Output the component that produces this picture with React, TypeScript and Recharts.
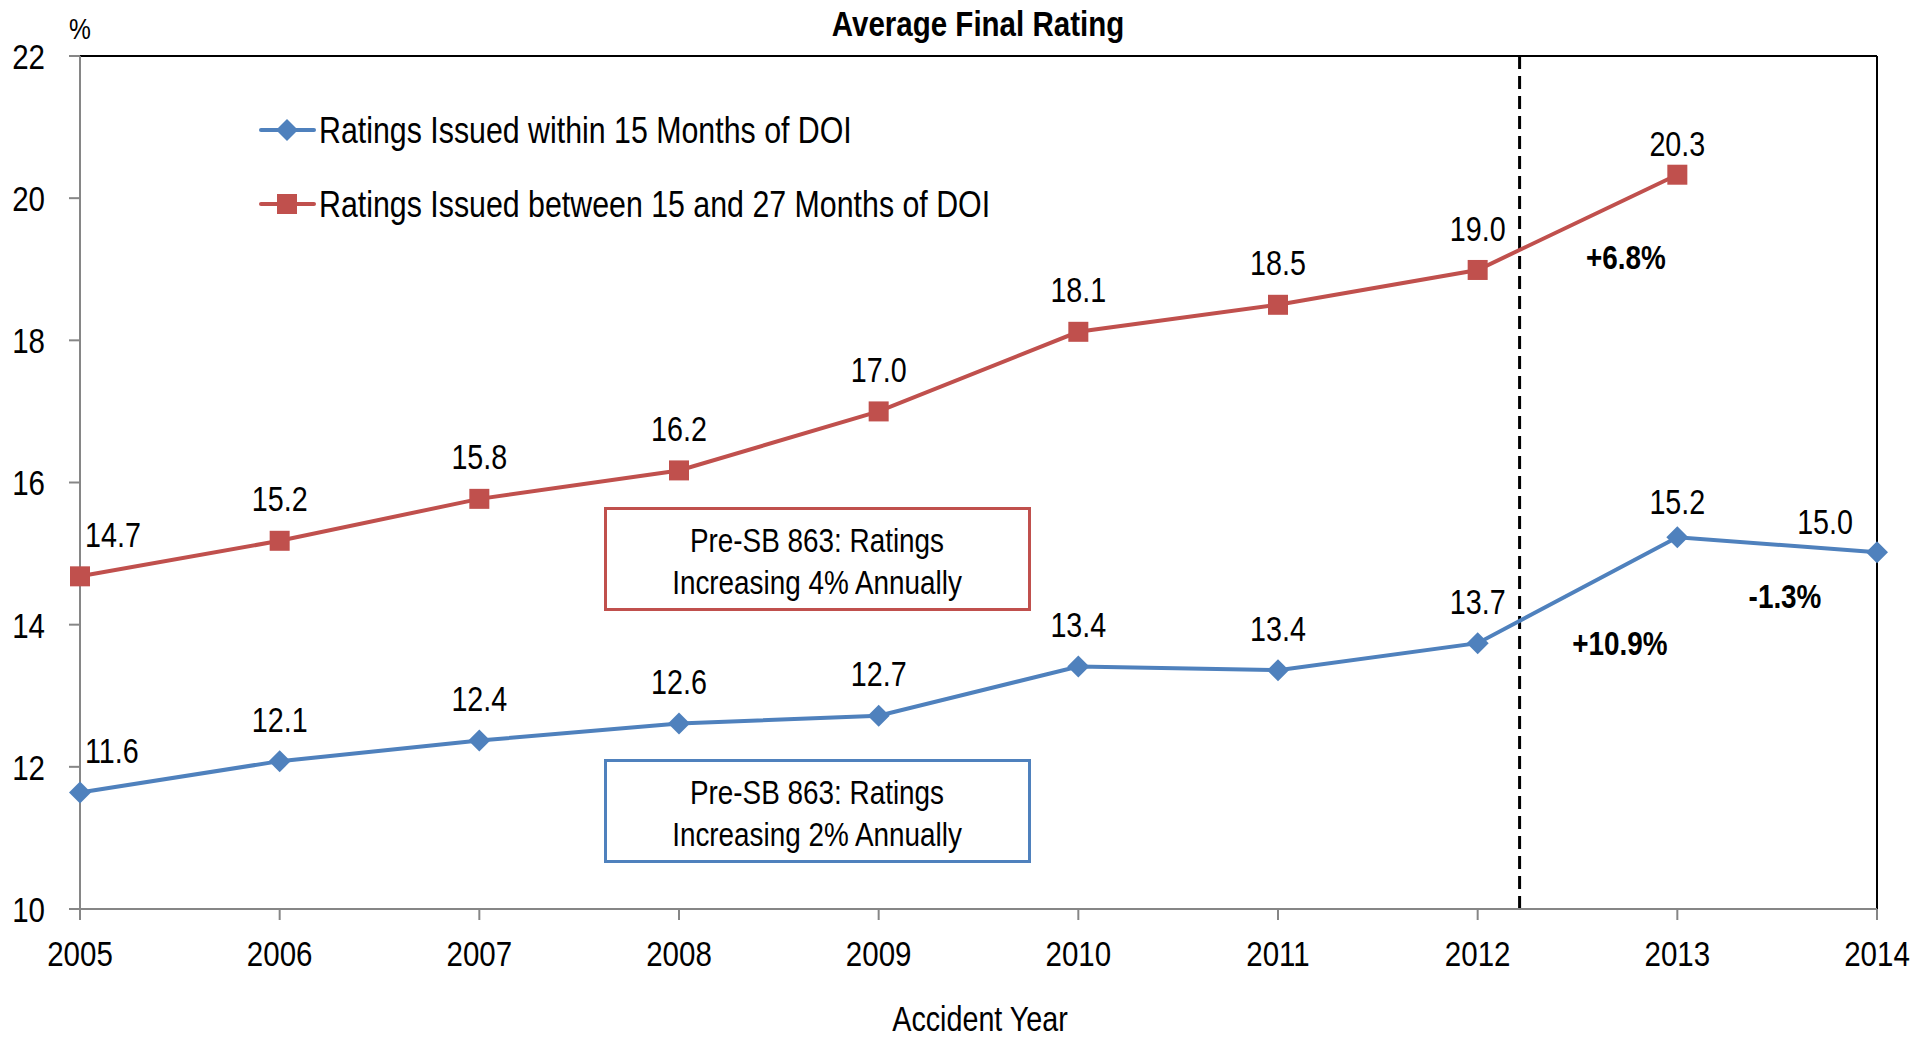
import React from 'react';
import { LineChart, Line, XAxis, YAxis, ReferenceLine, LabelList } from 'recharts';

const years = [2005, 2006, 2007, 2008, 2009, 2010, 2011, 2012, 2013, 2014];
const within15 = [11.64, 12.08, 12.37, 12.61, 12.72, 13.41, 13.36, 13.74, 15.23, 15.02];
const between15and27 = [14.68, 15.18, 15.77, 16.17, 17.0, 18.12, 18.5, 18.99, 20.33, null];
const yTicks = [10, 12, 14, 16, 18, 20, 22];
const seriesNames = ['Ratings Issued within 15 Months of DOI', 'Ratings Issued between 15 and 27 Months of DOI'];
const changeNotes = [
  { text: '+6.8%', x: 1626, y: 257 },
  { text: '+10.9%', x: 1620, y: 643 },
  { text: '-1.3%', x: 1785, y: 596 },
];
const boxNotes = [
  { lines: ['Pre-SB 863: Ratings', 'Increasing 4% Annually'], color: '#C0504D', x: 604, y: 507 },
  { lines: ['Pre-SB 863: Ratings', 'Increasing 2% Annually'], color: '#4F81BD', x: 604, y: 759 },
];

const BLUE = '#4F81BD';
const RED = '#C0504D';
const FONT = "'Liberation Sans', Arial, sans-serif";
const SX = 0.82; // horizontal condensing, Arial Narrow style

const data = years.map((y, i) => ({ year: y, a: within15[i], b: between15and27[i] }));

const NText = (p: any) => {
  const { x, y, anchor = 'middle', size = 36, weight = 'normal', dy = '0.36em', children } = p;
  return (
    <text
      transform={`translate(${x},${y}) scale(${SX},1)`}
      x={0}
      y={0}
      dy={dy}
      textAnchor={anchor}
      fontSize={size}
      fontWeight={weight}
      fontFamily={FONT}
      fill="#000"
    >
      {children}
    </text>
  );
};

const Diamond = (props: any) => {
  const { cx, cy } = props;
  if (cx == null || cy == null) return null;
  return <path d={`M${cx},${cy - 11} L${cx + 11},${cy} L${cx},${cy + 11} L${cx - 11},${cy} Z`} fill={BLUE} />;
};
const Square = (props: any) => {
  const { cx, cy } = props;
  if (cx == null || cy == null) return null;
  return <rect x={cx - 10} y={cy - 10} width={20} height={20} fill={RED} />;
};

const makeLabel = (series: 'a' | 'b') => (props: any) => {
  const { x, y, value, index } = props;
  if (value == null) return null;
  let anchor = 'middle';
  let tx = x;
  let ty = y - 42;
  if (index === 0) { anchor = 'start'; tx = x + 5; }
  if (index === 8) { ty = series === 'b' ? y - 31 : y - 36; }
  if (index === years.length - 1) { anchor = 'end'; tx = x - 24; ty = y - 31; }
  return <NText x={tx} y={ty} anchor={anchor} size={35}>{Number(value).toFixed(1)}</NText>;
};
const LabelA = makeLabel('a');
const LabelB = makeLabel('b');

const XTick = (props: any) => {
  const { x, y, payload } = props;
  return <NText x={x} y={y} anchor="middle" size={36} dy="0.71em">{payload.value}</NText>;
};
const YTick = (props: any) => {
  const { x, y, payload } = props;
  return <NText x={x} y={y} anchor="end" size={36} dy="0.36em">{payload.value}</NText>;
};

export default function App() {
  return (
    <div style={{ position: 'absolute', left: 0, top: 0, width: 1932, height: 1037, background: '#fff' }}>
      <LineChart width={1932} height={1037} data={data} margin={{ top: 56, right: 55, left: 0, bottom: 0 }}>
        <XAxis
          dataKey="year"
          type="number"
          domain={[2005, 2014]}
          ticks={years}
          height={128}
          stroke="#868686"
          strokeWidth={2}
          tickSize={11}
          tickMargin={20}
          tick={<XTick />}
          interval={0}
        />
        <YAxis
          domain={[10, 22]}
          ticks={yTicks}
          width={80}
          stroke="#868686"
          strokeWidth={2}
          tickSize={11}
          tickMargin={24}
          tick={<YTick />}
          interval={0}
          allowDataOverflow
        />
        <ReferenceLine y={22} stroke="#000" strokeWidth={2} />
        <ReferenceLine x={2014} stroke="#000" strokeWidth={2} />
        <ReferenceLine
          segment={[{ x: 2012.21, y: 10 }, { x: 2012.21, y: 22.06 }]}
          ifOverflow="visible"
          stroke="#000"
          strokeWidth={3}
          strokeDasharray="13 7"
        />
        <Line
          name={seriesNames[0]}
          dataKey="a"
          stroke={BLUE}
          strokeWidth={4}
          dot={<Diamond />}
          activeDot={false}
          isAnimationActive={false}
        >
          <LabelList dataKey="a" content={<LabelA />} />
        </Line>
        <Line
          name={seriesNames[1]}
          dataKey="b"
          stroke={RED}
          strokeWidth={4}
          dot={<Square />}
          activeDot={false}
          isAnimationActive={false}
        >
          <LabelList dataKey="b" content={<LabelB />} />
        </Line>
      </LineChart>
      <svg
        width={1932}
        height={1037}
        style={{ position: 'absolute', left: 0, top: 0, pointerEvents: 'none' }}
      >
        <NText x={978} y={23} size={36} weight="bold">Average Final Rating</NText>
        <NText x={69} y={28} size={30} anchor="start">%</NText>
        <NText x={980} y={1018} size={35}>Accident Year</NText>
        {seriesNames.map((n, i) => {
          const cy = 130 + i * 74;
          return (
            <g key={n}>
              <line x1={261} y1={cy} x2={314} y2={cy} stroke={i === 0 ? BLUE : RED} strokeWidth={4} strokeLinecap="round" />
              {i === 0 ? (
                <path d={`M287,${cy - 11} L298,${cy} L287,${cy + 11} L276,${cy} Z`} fill={BLUE} />
              ) : (
                <rect x={277} y={cy - 10} width={20} height={20} fill={RED} />
              )}
              <NText x={319} y={cy} anchor="start" size={37}>{n}</NText>
            </g>
          );
        })}
        {changeNotes.map((c) => (
          <NText key={c.text} x={c.x} y={c.y} size={34} weight="bold">{c.text}</NText>
        ))}
        {boxNotes.map((b, i) => (
          <g key={i}>
            <rect x={b.x + 1.5} y={b.y + 1.5} width={424} height={101} fill="#fff" stroke={b.color} strokeWidth={3} />
            <NText x={b.x + 213} y={b.y + 33} size={34}>{b.lines[0]}</NText>
            <NText x={b.x + 213} y={b.y + 75} size={34}>{b.lines[1]}</NText>
          </g>
        ))}
      </svg>
    </div>
  );
}
